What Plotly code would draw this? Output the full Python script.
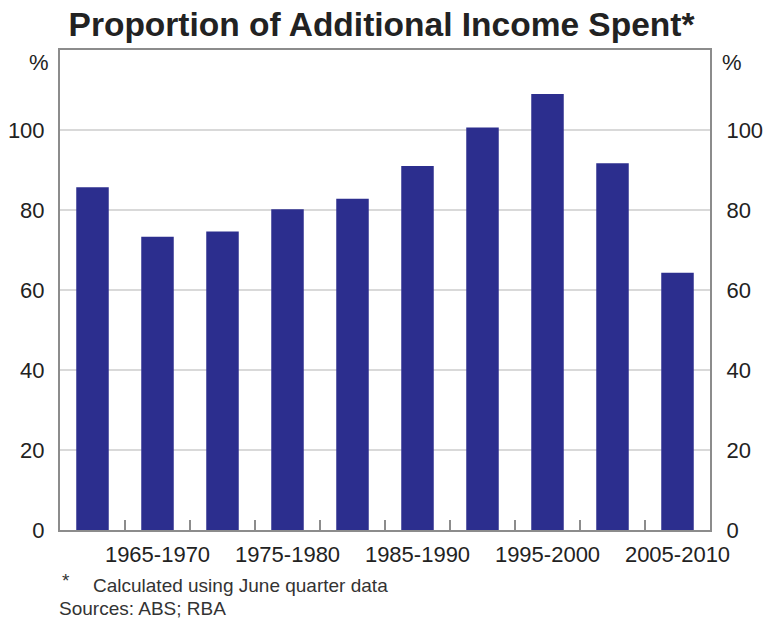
import plotly.graph_objects as go

categories = ["1960-1965", "1965-1970", "1970-1975", "1975-1980", "1980-1985",
              "1985-1990", "1990-1995", "1995-2000", "2000-2005", "2005-2010"]
values = [85.7, 73.3, 74.6, 80.2, 82.8, 91.0, 100.6, 109.0, 91.7, 64.3]
shown_labels = ["", "1965-1970", "", "1975-1980", "", "1985-1990", "", "1995-2000", "", "2005-2010"]
y_ticks = [0, 20, 40, 60, 80, 100]

FONT = "Liberation Sans, Arial, sans-serif"
AXIS_GREY = "#8c8c8c"
TEXT = "#222222"
NOTE = "#333333"

fig = go.Figure()
fig.add_trace(go.Bar(x=categories, y=values, marker=dict(color="#2c2e8e", line=dict(width=0)),
                     width=0.5, showlegend=False))
# invisible trace for right axis
fig.add_trace(go.Scatter(x=categories, y=values, yaxis="y2", mode="markers",
                         marker=dict(opacity=0), showlegend=False, hoverinfo="skip"))

fig.update_layout(
    width=763, height=619,
    margin=dict(l=60, r=53, t=50, b=89, autoexpand=False),
    paper_bgcolor="white", plot_bgcolor="white",
    font=dict(family=FONT, color=TEXT, size=22),
    title=dict(text="<b>Proportion of Additional Income Spent*</b>", x=0.5, xanchor="center",
               y=0.96, yanchor="middle", font=dict(size=33.5, family=FONT, color=TEXT)),
    xaxis=dict(type="category", categoryorder="array", categoryarray=categories,
               tickmode="array", tickvals=categories, ticktext=shown_labels, tickangle=0,
               tickson="boundaries", ticks="inside", ticklen=10, tickwidth=1.5, tickcolor=AXIS_GREY,
               showgrid=False, showline=True, linecolor=AXIS_GREY, linewidth=2, mirror=True,
               ticklabelstandoff=4,
               automargin=False, tickfont=dict(size=22, color=TEXT), range=[-0.5, 9.5]),
    yaxis=dict(range=[0, 120], tickmode="array", tickvals=y_ticks, showgrid=True,
               gridcolor="#d9d9d9", gridwidth=1.5, zeroline=False, showline=True,
               linecolor=AXIS_GREY, linewidth=2, ticks="", ticklabelstandoff=9, automargin=False,
               tickfont=dict(size=22, color=TEXT)),
    yaxis2=dict(range=[0, 120], tickmode="array", tickvals=y_ticks, overlaying="y", side="right",
                showgrid=False, zeroline=False, showline=True, linecolor=AXIS_GREY, linewidth=2,
                ticks="", ticklabelstandoff=10, automargin=False, tickfont=dict(size=22, color=TEXT)),
    annotations=[
        dict(text="%", xref="paper", yref="paper", x=0, y=0.973, xanchor="right", yanchor="middle",
             xshift=-9, showarrow=False, font=dict(size=22, color=TEXT)),
        dict(text="%", xref="paper", yref="paper", x=1, y=0.973, xanchor="left", yanchor="middle",
             xshift=10, showarrow=False, font=dict(size=22, color=TEXT)),
        dict(text="*", xref="paper", yref="paper", x=0, y=0, xanchor="left", yanchor="middle",
             yshift=-50, showarrow=False, font=dict(size=19, color=NOTE)),
        dict(text="Calculated using June quarter data", xref="paper", yref="paper", x=0, y=0,
             xanchor="left", yanchor="middle", xshift=31, yshift=-55, showarrow=False,
             font=dict(size=19, color=NOTE)),
        dict(text="Sources: ABS; RBA", xref="paper", yref="paper", x=0, y=0, xanchor="left",
             yanchor="middle", xshift=-3, yshift=-78, showarrow=False, font=dict(size=19, color=NOTE)),
    ],
)

fig.write_html("out.html", config={"displayModeBar": False},
               post_script="document.body.style.margin='0';document.body.style.overflow='hidden';")
